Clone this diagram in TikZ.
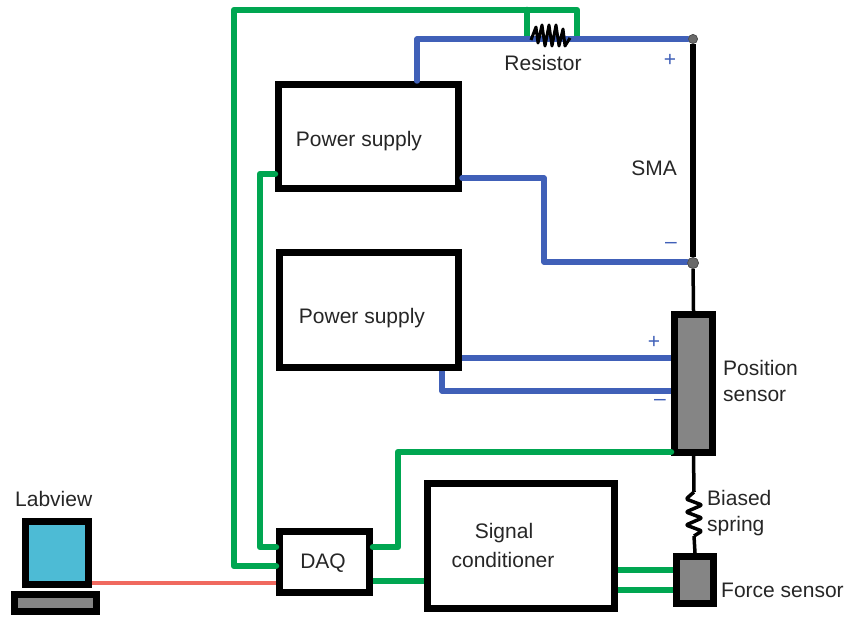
\documentclass[tikz,border=0pt]{standalone}
\usepackage{fontspec}
\setmainfont{Liberation Sans}
\usetikzlibrary{calc}
\definecolor{grn}{HTML}{00A651}
\definecolor{blu}{HTML}{4060B8}
\definecolor{redl}{HTML}{F0695F}
\definecolor{cyn}{HTML}{4DBBD5}
\definecolor{gry}{HTML}{858585}
\tikzset{
  x=1pt,y=-1pt,
  blockbox/.style={draw=black,line width=7pt,fill=white,inner sep=0pt,minimum width=#1},
  greybox/.style={draw=black,line width=7pt,fill=gry,inner sep=0pt,minimum width=#1},
  lbl/.style={inner sep=0pt,font=\fontsize{21}{25}\selectfont,text=black!85},
  sgn/.style={inner sep=0pt,font=\fontsize{21}{25}\selectfont,text=blu},
  gline/.style={draw=grn,line width=6.5pt,line join=round,line cap=round},
  bline/.style={draw=blu,line width=5.5pt,line join=round,line cap=round},
  rline/.style={draw=redl,line width=4pt},
  kline/.style={draw=black,line width=#1},
  coil/.style={draw=black,line width=3pt,line join=round},
  dot/.style={circle,fill=gry!80!black,draw=black!70,line width=.6pt,inner sep=0pt,minimum size=#1}
}
\begin{document}
\begin{tikzpicture}
\useasboundingbox (0,0) rectangle (845,617);
% blocks
\node[blockbox=180pt,minimum height=104pt] (ps1) at (368.5,136.5) {};
\node[blockbox=179pt,minimum height=115pt] (ps2) at (369,310) {};
\node[blockbox=187pt,minimum height=125pt] (sc) at (521,546) {};
\node[blockbox=90pt,minimum height=61pt] (daq) at (324.5,562) {};
\node[greybox=38pt,minimum height=138pt] (pos) at (693.5,383.5) {};
\node[greybox=37pt,minimum height=47pt] (force) at (695,580) {};
\node[draw=black,line width=7pt,fill=cyn,inner sep=0pt,minimum width=63pt,minimum height=63pt] (mon) at (57,553) {};
\node[greybox=82pt,minimum height=17pt] (kbd) at (55.5,603) {};
% coordinates
\coordinate (a1) at (234,566);
\coordinate (a2) at (234,10);
\coordinate (a3) at (577,10);
\coordinate (a4) at (577,38);
\coordinate (a5) at (527,10);
\coordinate (a6) at (527,38);
\coordinate (b1) at (260,547);
\coordinate (b2) at (260,174);
\coordinate (c1) at (398,547);
\coordinate (c2) at (398,452);
\coordinate (d1) at (417,39);
\coordinate (e1) at (544,178);
\coordinate (e2) at (544,262);
\node[dot=9pt] (top) at (693,39) {};
\node[dot=11pt] (mid) at (693,263) {};
% green wires
\draw[gline] (daq.west |- a1) -- (a1) -- (a2) -- (a3) -- (a4);
\draw[gline] (a5) -- (a6);
\draw[gline] (daq.west |- b1) -- (b1) -- (b2) -- (ps1.west |- b2);
\draw[gline] (daq.east |- c1) -- (c1) -- (c2) -- (pos.west |- c2);
\draw[gline,line cap=butt] (daq.east |- 0,581) -- (sc.west |- 0,581);
\draw[gline,line cap=butt] (sc.east |- 0,570) -- (force.west |- 0,570);
\draw[gline,line cap=butt] (sc.east |- 0,590) -- (force.west |- 0,590);
% blue wires
\draw[bline] (ps1.north -| d1) -- (d1) -- (top.west |- d1);
\draw[bline] (ps1.east |- e1) -- (e1) -- (e2) -- (mid.west |- e2);
\draw[bline,line cap=butt] (ps2.east |- 0,358) -- (pos.west |- 0,358);
\draw[bline,line cap=butt] (ps2.south -| 442,0) -- (442,391) -- (pos.west |- 0,391);
% red wire
\draw[rline] (mon.east |- 0,583) -- (daq.west |- 0,583);
% SMA
\draw[kline=5.5pt] (top) -- (mid);
\draw[kline=3.5pt] (mid) -- (pos.north);
% resistor
\draw[coil] (531,40) -- (536,27) -- (538,43) -- (542,25) -- (545,46) -- (549,25) -- (552,46) -- (556,25) -- (559,46) -- (563,29) -- (565,46) -- (570,38);
% spring
\coordinate (s1) at (694,492);
\coordinate (s2) at (694,536);
\draw[kline=3.5pt] (pos.south) -- (s1);
\draw[kline=3.5pt] (s2) -- (force.north);
\draw[black,line width=3.5pt,line join=round,rounded corners=2pt] (s1) -- (686,499) -- (702,505) -- (686,512) -- (702,518) -- (686,525) -- (702,531) -- (s2);
% dots over wire
\node[dot=9pt] at (top) {};
\node[dot=11pt] at (mid) {};
% texts
\node[lbl] (tres) at (543,63) {Resistor};
\node[sgn] (p1) at (670,60) {+};
\node[lbl] (tsma) at (654,168) {SMA};
\node[sgn] (m1) at (671,245) {–};
\node[lbl] (t1) at (359,141) {Power supply};
\node[lbl] (t2) at (362,318) {Power supply};
\node[sgn] (p2) at (654,342) {+};
\node[sgn] (m2) at (660,402) {–};
\node[lbl,anchor=west] (tpos1) at (723,368) {Position};
\node[lbl,anchor=west] (tpos2) at (723,396) {sensor};
\node[lbl,anchor=west] (tb1) at (707,498) {Biased};
\node[lbl,anchor=west] (tb2) at (707,526) {spring};
\node[lbl,anchor=west] (tf) at (721,590) {Force sensor};
\node[lbl,anchor=west] (tl) at (15,499) {Labview};
\node[lbl] (td) at (323,563) {DAQ};
\node[lbl] (ts1) at (504,533) {Signal};
\node[lbl] (ts2) at (503,560) {conditioner};
\end{tikzpicture}
\end{document}
